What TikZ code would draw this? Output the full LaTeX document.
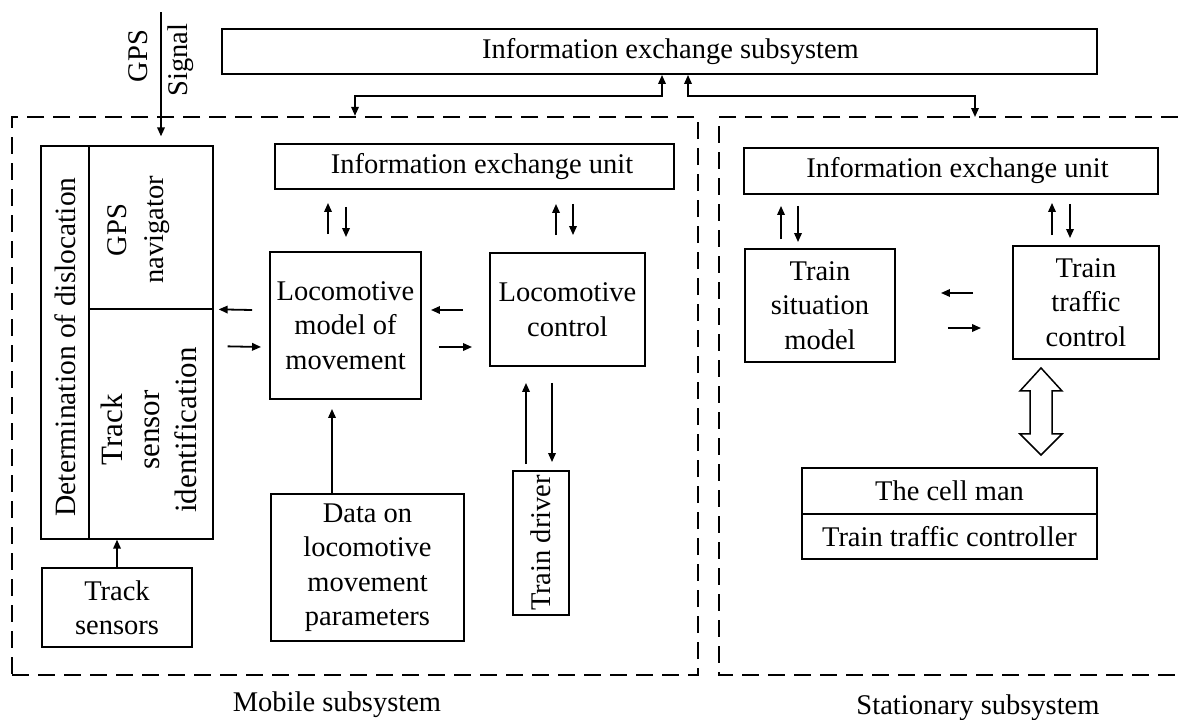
\documentclass[tikz,border=0pt]{standalone}
\usepackage{fontspec}
\setmainfont{Liberation Serif}
\usetikzlibrary{arrows.meta,calc}
\newcommand\dfont{\fontsize{28.5}{34.5}\selectfont}
\newcommand\rfont{\fontsize{28.5}{37}\selectfont}
\newcommand\bigrfont{\fontsize{31}{37}\selectfont}
\begin{document}
\begin{tikzpicture}[x=1pt,y=-1pt,
  box/.style={draw, line width=1.9pt, inner sep=0pt, align=center, font=\dfont},
  cbox/.style={draw, line width=1.3pt, inner sep=0pt, align=center, font=\dfont},
  txt/.style={inner sep=0pt, align=center, font=\dfont},
  rtxt/.style={inner sep=0pt, align=center, font=\rfont, rotate=90},
  frame/.style={draw, line width=2.3pt, dash pattern=on 17pt off 9pt},
  arr/.style={line width=1.8pt, -{Triangle[length=9pt,width=7.5pt]}},
  darr/.style={line width=1.8pt, {Triangle[length=9pt,width=7.5pt]}-{Triangle[length=9pt,width=7.5pt]}},
]
\useasboundingbox (0,0) rectangle (1178,720);

% top subsystem
\node[box, minimum width=875pt, minimum height=45pt] (ies) at (659.5,51.5) {\hspace*{22pt}Information exchange subsystem};

% frames
\node[frame, minimum width=686pt, minimum height=558pt, inner sep=0pt] (mob) at (355,396) {};
\draw[frame] (1178,117) -- (719,117) -- (719,675) -- (1178,675);
\coordinate (statN) at (975,117);

% mobile subsystem
\node[box, minimum width=399pt, minimum height=45pt] (ieuM) at (474.5,166.5) {\hspace*{15pt}Information exchange unit};
\node[box, minimum width=151pt, minimum height=147pt] (lmm) at (345.5,325.5) {Locomotive\\model of\\movement};
\node[box, minimum width=155pt, minimum height=113pt] (lc) at (567.5,309.5) {Locomotive\\control};
\node[box, minimum width=56pt, minimum height=144pt] (td) at (541,543) {};
\node[rtxt] (tdT) at (td) {Train driver};
\node[box, minimum width=193pt, minimum height=147pt] (data) at (367.5,567.5) {Data on\\locomotive\\movement\\parameters};
\node[box, minimum width=150pt, minimum height=79pt] (ts) at (117,607.5) {Track\\sensors};

\node[cbox, minimum width=48pt, minimum height=393pt] (det) at (65,342.5) {};
\node[rtxt, font=\fontsize{29.5}{37}\selectfont] (detT) at (65,347) {Determination of dislocation};
\node[cbox, minimum width=124pt, minimum height=163pt] (gps) at (151,227.5) {};
\node[rtxt] (gpsT) at (139,230) {GPS\\navigator};
\node[cbox, minimum width=124pt, minimum height=230pt] (tsi) at (151,424) {};
\node[rtxt, font=\bigrfont] (tsiT) at (149,430) {Track\\sensor\\identification};

% GPS signal
\coordinate (gpsin) at (161,12);
\node[rtxt] (gpsL) at (138,56) {GPS};
\node[rtxt] (sigL) at (181,60) {Signal};

% stationary subsystem
\node[box, minimum width=414pt, minimum height=46pt] (ieuS) at (951,171) {\hspace*{13pt}Information exchange unit};
\node[box, minimum width=150pt, minimum height=113pt] (tsm) at (820,305.5) {Train\\situation\\model};
\node[box, minimum width=146pt, minimum height=113pt] (ttc) at (1086,302.5) {Train\\traffic\\control};
\node[cbox, minimum width=295pt, minimum height=46pt] (cm1) at (949.5,491) {The cell man};
\node[cbox, minimum width=295pt, minimum height=45pt] (cm2) at (949.5,536.5) {Train traffic controller};

% labels
\node[txt] (mobL) at (337,705) {Mobile subsystem};
\node[txt] (statL) at (978,708) {Stationary subsystem};

% connectors top
\draw[darr] (mob.north) |- ($(ies.south)+(2.5,21)$) -- ($(ies.south)+(2.5,0)$);
\draw[darr] (statN) |- ($(ies.south)+(28.5,21)$) -- ($(ies.south)+(28.5,0)$);

% GPS signal arrow
\draw[arr] (gpsin) -- ($(gps.north)+(10,-9)$);

% ieuM <-> lmm, lc
\draw[arr] ($(lmm.north)+(-17.5,-17)$) -- ($(ieuM.south)+(-146.5,13)$);
\draw[arr] ($(ieuM.south)+(-128.5,17)$) -- ($(lmm.north)+(0.5,-14)$);
\draw[arr] ($(lc.north)+(-11.5,-17)$) -- ($(ieuM.south)+(81.5,14)$);
\draw[arr] ($(ieuM.south)+(98.5,14)$) -- ($(lc.north)+(5.5,-17)$);

% composite <-> lmm
\draw[arr] ($(lmm.west)+(-17,-15.5)$) -- ($(tsi.north east)+(5,1)$);
\draw[arr] ($(tsi.north east)+(14,38)$) -- ($(lmm.west)+(-8,21.5)$);

% lmm <-> lc
\draw[arr] ($(lc.west)+(-26,0.5)$) -- ($(lmm.east)+(9,-15.5)$);
\draw[arr] ($(lmm.east)+(17,21.5)$) -- ($(lc.west)+(-17,37.5)$);

% lc <-> td
\draw[arr] ($(td.north)+(-15,-6)$) -- ($(lc.south)+(-41.5,16)$);
\draw[arr] ($(lc.south)+(-15.5,16)$) -- ($(td.north)+(11,-8)$);

% data -> lmm
\draw[arr] ($(data.north)+(-35.5,0)$) -- ($(lmm.south)+(-13.5,9)$);

% track sensors -> tsi
\draw[arr] (ts.north) -- (ts.north |- tsi.south);

% stationary connectors
\draw[arr] ($(tsm.north)+(-39,-9)$) -- ($(ieuS.south)+(-170,11)$);
\draw[arr] ($(ieuS.south)+(-153,11)$) -- ($(tsm.north)+(-22,-6)$);
\draw[arr] ($(ttc.north)+(-34,-10)$) -- ($(ieuS.south)+(101,8)$);
\draw[arr] ($(ieuS.south)+(119,9)$) -- ($(ttc.north)+(-16,-7)$);
\draw[arr] ($(ttc.west)+(-39,-9.5)$) -- ($(tsm.east)+(45,-12.5)$);
\draw[arr] ($(tsm.east)+(52,22.5)$) -- ($(ttc.west)+(-31,25.5)$);

% hollow double arrow
\coordinate (hA) at ($(ttc.south)+(-45,8)$);
\draw[line width=1.5pt, fill=white] (hA) -- ++(21,23) -- ++(-10,0) -- ++(0,43) -- ++(10,0) -- ++(-21,21) -- ++(-21,-21) -- ++(10,0) -- ++(0,-43) -- ++(-10,0) -- cycle;
\end{tikzpicture}
\end{document}
